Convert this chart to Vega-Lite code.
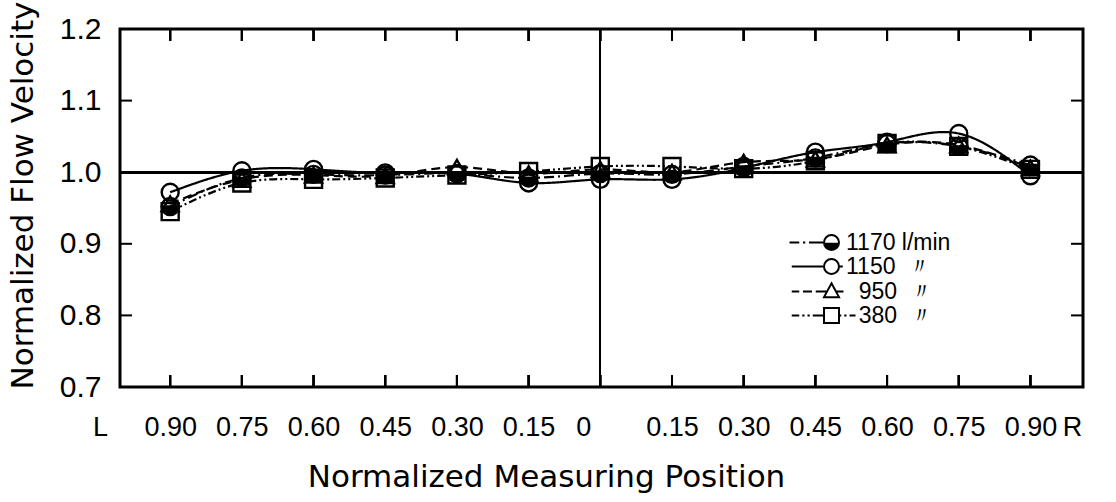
{
  "$schema": "https://vega.github.io/schema/vega-lite/v6.json",
  "width": 963,
  "height": 358,
  "autosize": {"type": "none"},
  "padding": {"left": 120, "top": 29, "right": 33, "bottom": 115},
  "background": "white",
  "config": {
    "view": {"stroke": "black", "strokeWidth": 3},
    "axis": {
      "domain": false,
      "grid": false,
      "labelColor": "black",
      "titleColor": "black",
      "labelFont": "Liberation Sans, Arial, sans-serif",
      "titleFont": "DejaVu Sans",
      "titleFontWeight": "normal"
    }
  },
  "data": {
    "values": [
      {"pos": -0.90, "series": "1170", "v": 0.952}, {"pos": -0.90, "series": "1150", "v": 0.972}, {"pos": -0.90, "series": "950", "v": 0.956}, {"pos": -0.90, "series": "380", "v": 0.945},
      {"pos": -0.75, "series": "1170", "v": 0.992}, {"pos": -0.75, "series": "1150", "v": 1.002}, {"pos": -0.75, "series": "950", "v": 0.990}, {"pos": -0.75, "series": "380", "v": 0.985},
      {"pos": -0.60, "series": "1170", "v": 0.997}, {"pos": -0.60, "series": "1150", "v": 1.004}, {"pos": -0.60, "series": "950", "v": 0.996}, {"pos": -0.60, "series": "380", "v": 0.990},
      {"pos": -0.45, "series": "1170", "v": 0.996}, {"pos": -0.45, "series": "1150", "v": 0.999}, {"pos": -0.45, "series": "950", "v": 0.995}, {"pos": -0.45, "series": "380", "v": 0.992},
      {"pos": -0.30, "series": "1170", "v": 0.998}, {"pos": -0.30, "series": "1150", "v": 0.998}, {"pos": -0.30, "series": "950", "v": 1.007}, {"pos": -0.30, "series": "380", "v": 0.996},
      {"pos": -0.15, "series": "1170", "v": 0.992}, {"pos": -0.15, "series": "1150", "v": 0.985}, {"pos": -0.15, "series": "950", "v": 0.998}, {"pos": -0.15, "series": "380", "v": 1.001},
      {"pos": 0.00, "series": "1170", "v": 0.998}, {"pos": 0.00, "series": "1150", "v": 0.990}, {"pos": 0.00, "series": "950", "v": 1.004}, {"pos": 0.00, "series": "380", "v": 1.008},
      {"pos": 0.15, "series": "1170", "v": 0.997}, {"pos": 0.15, "series": "1150", "v": 0.990}, {"pos": 0.15, "series": "950", "v": 1.000}, {"pos": 0.15, "series": "380", "v": 1.008},
      {"pos": 0.30, "series": "1170", "v": 1.008}, {"pos": 0.30, "series": "1150", "v": 1.006}, {"pos": 0.30, "series": "950", "v": 1.014}, {"pos": 0.30, "series": "380", "v": 1.005},
      {"pos": 0.45, "series": "1170", "v": 1.020}, {"pos": 0.45, "series": "1150", "v": 1.028}, {"pos": 0.45, "series": "950", "v": 1.018}, {"pos": 0.45, "series": "380", "v": 1.016},
      {"pos": 0.60, "series": "1170", "v": 1.040}, {"pos": 0.60, "series": "1150", "v": 1.042}, {"pos": 0.60, "series": "950", "v": 1.038}, {"pos": 0.60, "series": "380", "v": 1.040},
      {"pos": 0.75, "series": "1170", "v": 1.036}, {"pos": 0.75, "series": "1150", "v": 1.054}, {"pos": 0.75, "series": "950", "v": 1.038}, {"pos": 0.75, "series": "380", "v": 1.036},
      {"pos": 0.90, "series": "1170", "v": 1.010}, {"pos": 0.90, "series": "1150", "v": 0.995}, {"pos": 0.90, "series": "950", "v": 1.006}, {"pos": 0.90, "series": "380", "v": 1.004}
    ]
  },
  "layer": [
    {
      "mark": {"type": "rule", "color": "black", "strokeWidth": 2},
      "encoding": {"y": {"datum": 1, "type": "quantitative", "scale": {"domain": [0.7, 1.2], "nice": false, "zero": false}}}
    },
    {
      "mark": {"type": "rule", "color": "black", "strokeWidth": 1.3},
      "encoding": {"x": {"datum": 0, "type": "quantitative", "scale": {"domain": [-1.005, 1.01], "nice": false, "zero": false}}}
    },
    {
      "mark": {"type": "rule", "color": "black", "strokeWidth": 2},
      "encoding": {
        "x": {"field": "pos", "type": "quantitative", "scale": {"domain": [-1.005, 1.01], "nice": false, "zero": false}},
        "y": {"datum": 1.2, "type": "quantitative"},
        "y2": {"datum": 1.1832}
      }
    },
    {
      "mark": {"type": "rule", "color": "black", "strokeWidth": 2},
      "encoding": {
        "x": {"field": "pos", "type": "quantitative", "scale": {"domain": [-1.005, 1.01], "nice": false, "zero": false}},
        "y": {"datum": 0.7, "type": "quantitative"},
        "y2": {"datum": 0.7168}
      }
    },
    {
      "data": {"values": [{"tick": 0.8}, {"tick": 0.9}, {"tick": 1.1}]},
      "mark": {"type": "rule", "color": "black", "strokeWidth": 2},
      "encoding": {
        "y": {"field": "tick", "type": "quantitative", "scale": {"domain": [0.7, 1.2], "nice": false, "zero": false}},
        "x": {"datum": -1.005, "type": "quantitative"},
        "x2": {"datum": -0.9799}
      }
    },
    {
      "data": {"values": [{"tick": 0.8}, {"tick": 0.9}, {"tick": 1.1}]},
      "mark": {"type": "rule", "color": "black", "strokeWidth": 2},
      "encoding": {
        "y": {"field": "tick", "type": "quantitative", "scale": {"domain": [0.7, 1.2], "nice": false, "zero": false}},
        "x": {"datum": 1.01, "type": "quantitative"},
        "x2": {"datum": 0.9849}
      }
    },
    {
      "mark": {"type": "line", "interpolate": "natural", "strokeWidth": 2.2, "color": "black"},
      "encoding": {
        "x": {
          "field": "pos", "type": "quantitative",
          "scale": {"domain": [-1.005, 1.01], "nice": false, "zero": false},
          "axis": {
            "orient": "bottom",
            "values": [-1.005, -0.9, -0.75, -0.6, -0.45, -0.3, -0.15, 0, 0.15, 0.3, 0.45, 0.6, 0.75, 0.9, 1.01],
            "ticks": false,
            "labelExpr": "datum.value < -0.95 ? 'L' : datum.value > 0.95 ? 'R' : datum.value == 0 ? '0' : format(abs(datum.value), '.2f')",
            "labelFontSize": 27,
            "labelPadding": 27,
            "labelFlush": false,
            "labelOverlap": false,
            "labelOffset": {"condition": [
              {"test": "datum.value < -1", "value": -20},
              {"test": "datum.value == 0", "value": -17},
              {"test": "datum.value > 1", "value": -11}
            ], "value": 0},
            "title": "Normalized Measuring Position",
            "titleFontSize": 31,
            "titleX": 426,
            "titleY": 99,
            "titleAlign": "center",
            "titleBaseline": "alphabetic"
          }
        },
        "y": {
          "field": "v", "type": "quantitative",
          "scale": {"domain": [0.7, 1.2], "nice": false, "zero": false},
          "axis": {
            "orient": "left",
            "values": [0.7, 0.8, 0.9, 1.0, 1.1, 1.2],
            "format": ".1f",
            "ticks": false,
            "labelFontSize": 30,
            "labelPadding": 19,
            "labelFlush": false,
            "labelOverlap": false,
            "title": "Normalized Flow Velocity",
            "titleFontSize": 31,
            "titleX": -88,
            "titleY": 166,
            "titleAngle": -90,
            "titleAlign": "center",
            "titleBaseline": "alphabetic"
          }
        },
        "strokeDash": {
          "field": "series", "type": "nominal",
          "scale": {"domain": ["1170", "1150", "950", "380"], "range": [[10, 4, 2, 4], [1, 0], [9, 5], [8, 3, 2, 3, 2, 3]]},
          "legend": null
        }
      }
    },
    {
      "mark": {"type": "point", "stroke": "black", "strokeWidth": 2.4, "size": 289, "opacity": 1},
      "encoding": {
        "x": {"field": "pos", "type": "quantitative", "scale": {"domain": [-1.005, 1.01], "nice": false, "zero": false}},
        "y": {"field": "v", "type": "quantitative", "scale": {"domain": [0.7, 1.2], "nice": false, "zero": false}},
        "shape": {
          "field": "series", "type": "nominal",
          "scale": {"domain": ["1170", "1150", "950", "380"], "range": ["M-1,0A1,1,0,0,0,1,0ZM-1,0A1,1,0,0,1,1,0A1,1,0,0,0,-1,0", "circle", "triangle-up", "square"]},
          "legend": null
        },
        "fill": {
          "field": "series", "type": "nominal",
          "scale": {"domain": ["1170", "1150", "950", "380"], "range": ["black", "transparent", "transparent", "transparent"]},
          "legend": null
        }
      }
    },
    {
      "transform": [{"filter": "datum.pos > 5"}],
      "mark": {"type": "point", "filled": false, "opacity": 1, "size": 225, "stroke": "black", "strokeWidth": 2},
      "encoding": {
        "x": {"field": "pos", "type": "quantitative", "scale": {"domain": [-1.005, 1.01], "nice": false, "zero": false}},
        "y": {"field": "v", "type": "quantitative", "scale": {"domain": [0.7, 1.2], "nice": false, "zero": false}},
        "shape": {
          "field": "series", "type": "nominal",
          "scale": {
            "domain": ["1170", "1150", "950", "380"],
            "range": [
              "M-5.6,0H-4.3M-3.8,0H-3.5M-3,0H-1M-1,0A1,1,0,0,0,1,0A1,1,0,0,0,-1,0ZM-0.99,0.15H0.99M-0.95,0.3H0.95M-0.89,0.45H0.89M-0.8,0.6H0.8M-0.66,0.75H0.66M-0.44,0.9H0.44",
              "M-5.3,0H-1M1,0H1.5M-1,0A1,1,0,0,0,1,0A1,1,0,0,0,-1,0Z",
              "M-5.3,0H-4.3M-3.8,0H-2.6M-2.1,0H-0.6M0.6,0H1.6M0,-1.1L1,0.75L-1,0.75Z",
              "M-5.3,0H-4.3M-3.9,0H-3.6M-3.2,0H-2.9M-2.5,0H-1M1,0H1.3M1.7,0H2M2.4,0H3.2M-1,-1H1V1H-1Z"
            ]
          },
          "legend": {
            "title": null, "orient": "none", "legendX": 700, "legendY": 202, "padding": 0,
            "symbolSize": 225, "symbolStrokeWidth": 2, "symbolStrokeColor": "black", "symbolOpacity": 1,
            "labelFont": "Liberation Sans, Arial, sans-serif",
            "labelFontSize": 23, "labelColor": "black", "labelOffset": 3, "rowPadding": 0, "labelLimit": 300,
            "labelExpr": "datum.label == '1170' ? '1170 l/min' : datum.label == '1150' ? '1150\u00a0\u00a0\u3003' : datum.label == '950' ? '\u200b\u00a0\u00a0950\u00a0\u00a0\u3003' : '\u200b\u00a0\u00a0380\u00a0\u00a0\u3003'"
          }
        }
      }
    }
  ],
  "resolve": {
    "scale": {"shape": "independent", "fill": "independent"}
  }
}
